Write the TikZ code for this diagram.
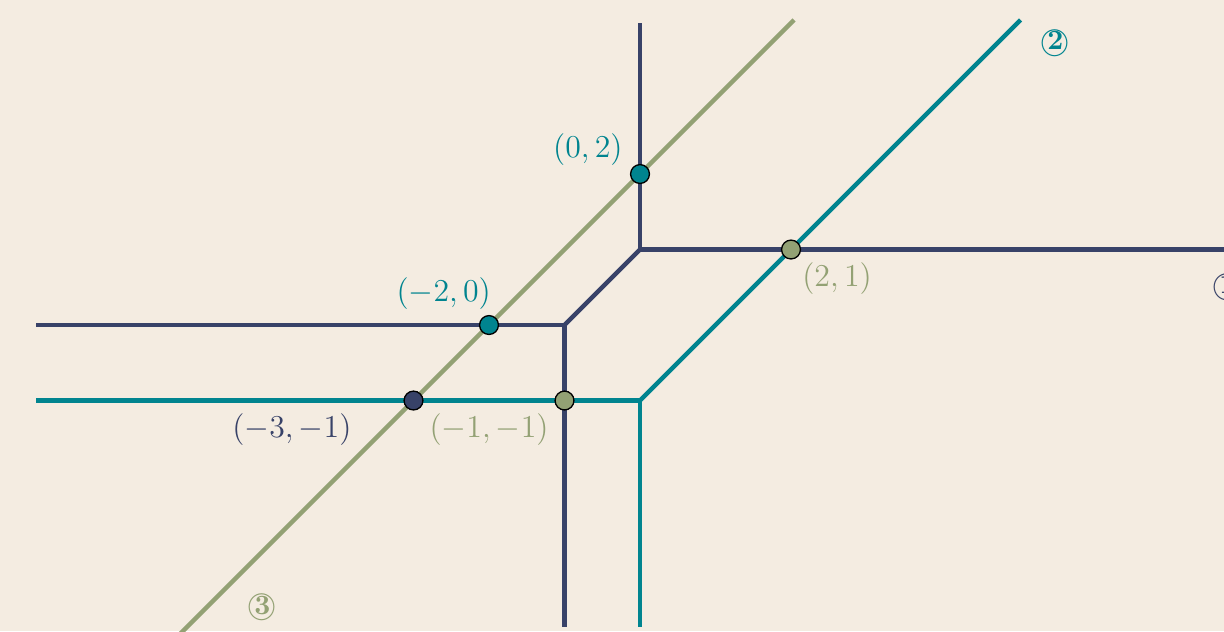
\documentclass[tikz,border=0pt]{standalone}
\usepackage{fontspec}
\definecolor{bg}{HTML}{F4ECE1}
\definecolor{navy}{HTML}{384268}
\definecolor{teal2}{HTML}{00848F}
\definecolor{sage}{HTML}{93A174}
\tikzset{
  curve/.style={line width=1.65pt},
  pt/.style={circle, draw=black, line width=0.5pt, minimum size=0.25cm, inner sep=0pt},
  lab/.style={font=\fontsize{11.5}{14}\selectfont, inner sep=0pt},
  cnum/.style={font=\fontsize{10.5}{12}\selectfont\bfseries, inner sep=0pt}
}
\begin{document}
\begin{tikzpicture}
\fill[bg] (-8.477,-4.053) rectangle (7.735,4.305);
\useasboundingbox (-8.477,-4.053) rectangle (7.735,4.305);
% vertices and ends
\coordinate (A) at (0,1);
\coordinate (B) at (-1,0);
\coordinate (C) at (0,-1);
\coordinate (Atop) at (0,4);
\coordinate (Aright) at (8,1);
\coordinate (Bleft) at (-8,0);
\coordinate (Bbot) at (-1,-4);
\coordinate (Cleft) at (-8,-1);
\coordinate (Cbot) at (0,-4);
\coordinate (Ctop) at (5.04,4.04);
\coordinate (Gbot) at (-6.1,-4.1);
\coordinate (Gtop) at (2.04,4.04);
% curve 3 (sage line)
\draw[curve, sage] (Gbot) -- (Gtop);
% curve 2 (teal)
\draw[curve, teal2] (Cleft) -- (C) -- (Cbot);
\draw[curve, teal2] (C) -- (Ctop);
% curve 1 (navy)
\draw[curve, navy] (Atop) -- (A) -- (Aright);
\draw[curve, navy] (A) -- (B);
\draw[curve, navy] (Bleft) -- (B) -- (Bbot);
% intersection points
\node[pt, fill=teal2] (p02) at (0,2) {};
\node[pt, fill=sage] (p21) at (2,1) {};
\node[pt, fill=teal2] (pm20) at (-2,0) {};
\node[pt, fill=navy] (pm3m1) at (-3,-1) {};
\node[pt, fill=sage] (pm1m1) at (-1,-1) {};
% labels
\node[lab, text=teal2] (l02) at (-0.69,2.32) {$(0,2)$};
\node[lab, text=sage] (l21) at (2.61,0.62) {$(2,1)$};
\node[lab, text=teal2] (lm20) at (-2.60,0.42) {$(-2,0)$};
\node[lab, text=navy] (lm3m1) at (-4.61,-1.39) {$(-3,-1)$};
\node[lab, text=sage] (lm1m1) at (-2.0,-1.39) {$(-1,-1)$};
% curve numbers
\node[cnum, text=navy] (n1) at (7.78,0.5) {\textcircled{1}};
\node[cnum, text=teal2] (n2) at (5.5,3.73) {\textcircled{2}};
\node[cnum, text=sage] (n3) at (-5.0,-3.75) {\textcircled{3}};
\end{tikzpicture}
\end{document}
